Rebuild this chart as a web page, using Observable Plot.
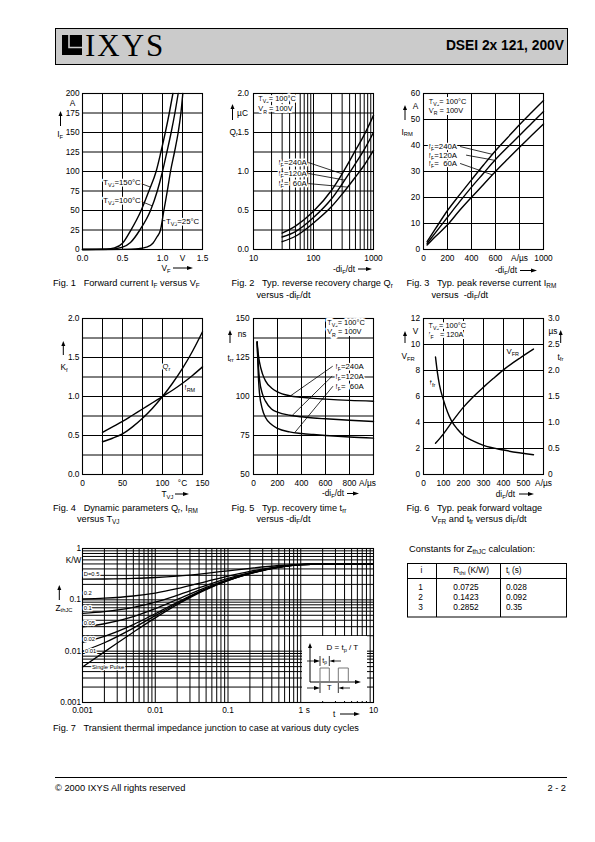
<!DOCTYPE html>
<html><head><meta charset="utf-8">
<script src="https://cdn.jsdelivr.net/npm/d3@7"></script>
<script src="https://cdn.jsdelivr.net/npm/@observablehq/plot@0.6"></script>
<style>
html,body{margin:0;padding:0;background:#fff;}
#page{position:relative;width:595px;height:842px;overflow:hidden;background:#fff;font-family:"Liberation Sans",Arial,Helvetica,sans-serif;color:#000;}
.t{position:absolute;white-space:nowrap;line-height:1;z-index:3;}
.s{font-size:70%;position:relative;top:0.32em;}
#overlay{position:absolute;left:0;top:0;z-index:2;}
</style></head><body><div id="page"></div>
<script>
/* ================= DATA ================= */
// Fig. 1  I_F versus V_F
const fig1V150 = [0, 0.3, 0.4, 0.5, 0.6, 0.733, 0.83, 0.92, 0.98, 1.035, 1.085, 1.13];
const fig1I150 = [0, 0.5, 2, 8, 24, 50, 75, 100, 125, 150, 175, 200];
const fig1V100 = [0, 0.35, 0.5, 0.6, 0.717, 0.85, 0.935, 1.0, 1.055, 1.108, 1.155, 1.196];
const fig1I100 = [0, 0.3, 3, 9, 25, 50, 75, 100, 125, 150, 175, 200];
const fig1V25 = [0, 0.5, 0.6, 0.7, 0.8, 0.88, 0.93, 0.975, 1.017, 1.06, 1.1, 1.15, 1.196, 1.23, 1.254];
const fig1I25 = [0, 0.1, 0.3, 1, 3, 8, 16, 25, 50, 75, 100, 125, 150, 175, 200];
const fig1XTicks = [0, 0.5, 1.0, 1.25, 1.5];
const fig1XLabels = ["0.0", "0.5", "1.0", "V", "1.5"];
const fig1YTicks = [0, 25, 50, 75, 100, 125, 150, 175, 200];
const fig1YLabels = ["0", "25", "50", "75", "100", "125", "150", "175", "200"];
const fig1GridX = [0.25, 0.5, 0.75, 1.0, 1.25];
const fig1GridY = [25, 50, 75, 100, 125, 150, 175];
const fig1Labels = ["T_{VJ}=150°C", "T_{VJ}=100°C", "T_{VJ}=25°C"];
const fig1LabelX = [0.26, 0.26, 1.045];
const fig1LabelY = [86, 63, 36];
const fig1LeadX1 = [0.72, 0.725, 0.995], fig1LeadY1 = [85, 62, 37];
const fig1LeadX2 = [0.85, 0.87, 1.04], fig1LeadY2 = [80, 56, 37];

// Fig. 2  Q_r versus -di_F/dt
const fig2X = [30, 50, 100, 200, 300, 500, 700, 1000];
const fig2Q240 = [0.21, 0.30, 0.49, 0.76, 0.97, 1.27, 1.47, 1.72];
const fig2Q120 = [0.16, 0.23, 0.41, 0.65, 0.84, 1.10, 1.28, 1.50];
const fig2Q60 = [0.10, 0.17, 0.34, 0.55, 0.71, 0.93, 1.08, 1.27];
const fig2XTicks = [10, 100, 430, 1000];
const fig2XLabels = ["10", "100", "A/µs", "1000"];
const fig2YTicks = [0, 0.5, 1.0, 1.5, 2.0];
const fig2YLabels = ["0.0", "0.5", "1.0", "1.5", "2.0"];
const fig2GridX = [20, 30, 40, 50, 60, 70, 80, 90, 100, 200, 300, 400, 500, 600, 700, 800, 900];
const fig2GridY = [0.25, 0.5, 0.75, 1.0, 1.25, 1.5, 1.75];
const fig2Cond = ["T_{VJ}= 100°C", "V_{R} = 100V"];
const fig2CondX = [12, 12], fig2CondY = [1.94, 1.80];
const fig2Labels = ["I_{F}=240A", "I_{F}=120A", "I_{F}=\u00A0\u00A060A"];
const fig2LabelX = [26, 26, 26], fig2LabelY = [1.115, 0.975, 0.845];
const fig2LeadX1 = [82, 82, 82], fig2LeadY1 = [1.115, 0.975, 0.845];
const fig2LeadX2 = [300, 330, 370], fig2LeadY2 = [0.97, 0.89, 0.80];

// Fig. 3  I_RM versus -di_F/dt
const fig3X = [30, 100, 200, 300, 400, 500, 600, 700, 800, 900, 1000];
const fig3I240 = [3, 8, 15, 21, 26.8, 32.5, 38, 43, 48, 52.7, 57.3];
const fig3I120 = [2.3, 6.5, 12.4, 18.3, 24, 29.3, 34.6, 39.3, 43.8, 48.5, 53.1];
const fig3I60 = [1.7, 5, 9.5, 15, 20.1, 25, 30, 34.7, 39.3, 43.8, 48.3];
const fig3XTicks = [0, 200, 400, 600, 800, 1000];
const fig3XLabels = ["0", "200", "400", "600", "A/µs", "1000"];
const fig3YTicks = [0, 10, 20, 30, 40, 50, 60];
const fig3YLabels = ["0", "10", "20", "30", "40", "50", "60"];
const fig3GridX = [200, 400, 600, 800];
const fig3GridY = [10, 20, 30, 40, 50];
const fig3Cond = ["T_{VJ}= 100°C", "V_{R} = 100V"];
const fig3CondX = [44, 44], fig3CondY = [56.8, 53.4];
const fig3Labels = ["I_{F}=240A", "I_{F}=120A", "I_{F}=\u00A0\u00A060A"];
const fig3LabelX = [44, 44, 44], fig3LabelY = [39.6, 36.3, 33.1];
const fig3LeadX1 = [305, 355, 305], fig3LeadY1 = [39.6, 36.3, 33.1];
const fig3LeadX2 = [574, 594, 574], fig3LeadY2 = [36.6, 34.3, 28.7];

// Fig. 4  K_f versus T_VJ
const fig4T = [25, 37.5, 50, 62.5, 75, 87.5, 100, 112.5, 125, 137.5, 150];
const fig4Qr = [0.42, 0.465, 0.52, 0.61, 0.72, 0.85, 1.0, 1.17, 1.36, 1.58, 1.83];
const fig4Irm = [0.54, 0.61, 0.68, 0.76, 0.84, 0.92, 1.0, 1.08, 1.17, 1.27, 1.38];
const fig4XTicks = [0, 50, 100, 125, 150];
const fig4XLabels = ["0", "50", "100", "°C", "150"];
const fig4YTicks = [0, 0.5, 1.0, 1.5, 2.0];
const fig4YLabels = ["0.0", "0.5", "1.0", "1.5", "2.0"];
const fig4GridX = [25, 50, 75, 100, 125];
const fig4GridY = [0.25, 0.5, 0.75, 1.0, 1.25, 1.5, 1.75];
const fig4Labels = ["Q_{r}", "I_{RM}"];
const fig4LabelX = [100, 127.5], fig4LabelY = [1.385, 1.115];

// Fig. 5  t_rr versus -di_F/dt
const fig5X = [30, 40, 50, 75, 100, 150, 200, 300, 400, 500, 600, 800, 1000];
const fig5T240 = [135, 127, 122, 114.5, 110, 105.5, 103, 100.5, 99.5, 98.8, 98.3, 97.5, 97];
const fig5T120 = [135, 120, 111, 101.5, 97, 92, 90, 88, 87, 86.2, 85.7, 84.8, 84];
const fig5T60 = [135, 114, 102, 91.5, 86.5, 82, 79.5, 77.3, 76.3, 75.6, 75, 74, 73.3];
const fig5XTicks = [0, 200, 400, 600, 800, 950];
const fig5XLabels = ["0", "200", "400", "600", "800", "A/µs"];
const fig5YTicks = [50, 75, 100, 125, 150];
const fig5YLabels = ["50", "75", "100", "125", "150"];
const fig5GridX = [200, 400, 600, 800];
const fig5GridY = [62.5, 75, 87.5, 100, 112.5, 125, 137.5];
const fig5Cond = ["T_{VJ}= 100°C", "V_{R} = 100V"];
const fig5CondX = [614, 614], fig5CondY = [147.6, 141.3];
const fig5Labels = ["I_{F}=240A", "I_{F}=120A", "I_{F}=\u00A0\u00A060A"];
const fig5LabelX = [683, 683, 683], fig5LabelY = [119.4, 113, 106.6];
const fig5LeadX1 = [660, 655, 662], fig5LeadY1 = [119.4, 113, 106.6];
const fig5LeadX2 = [308, 322, 344], fig5LeadY2 = [100.4, 87.8, 76.9];

// Fig. 6  V_FR and t_fr versus di_F/dt
const fig6VfrX = [60, 100, 150, 200, 250, 300, 350, 400, 450, 500, 550];
const fig6Vfr = [2.4, 3.13, 4.2, 5.18, 6.0, 6.72, 7.4, 8.05, 8.62, 9.15, 9.65];
const fig6TfrX = [60, 70, 80, 100, 120, 140, 170, 200, 250, 300, 400, 550];
const fig6Tfr = [2.26, 1.95, 1.72, 1.43, 1.2, 1.03, 0.87, 0.75, 0.64, 0.56, 0.47, 0.38];
const fig6XTicks = [0, 100, 200, 300, 400, 500, 600];
const fig6XLabels = ["0", "100", "200", "300", "400", "500", "A/µs"];
const fig6YTicks = [0, 2, 4, 6, 8, 10, 12];
const fig6YLabels = ["0", "2", "4", "6", "8", "10", "12"];
const fig6RTicks = [0, 0.5, 1.0, 1.5, 2.0, 2.5, 3.0];
const fig6RLabels = ["0", "0.5", "1.0", "1.5", "2.0", "2.5", "3.0"];
const fig6GridX = [100, 200, 300, 400, 500];
const fig6GridY = [2, 4, 6, 8, 10];
const fig6Cond = ["T_{VJ}= 100°C", "I_{F}\u00A0\u00A0 = 120A"];
const fig6CondX = [25, 25], fig6CondY = [11.46, 10.74];
const fig6Labels = ["V_{FR}", "t_{fr}"];
const fig6LabelX = [415, 31.5], fig6LabelY = [9.48, 7.1];

// Fig. 7  Z_thJC versus t
const fig7T = [0.001, 0.002, 0.005, 0.01, 0.02, 0.05, 0.1, 0.2, 0.5, 1, 2, 5, 10];
const fig7Single = [0.0049, 0.0097, 0.0234, 0.0445, 0.0806, 0.158, 0.236, 0.323, 0.431, 0.484, 0.499, 0.5, 0.5];
const fig7D01 = [0.0099, 0.0146, 0.0282, 0.0491, 0.0848, 0.1614, 0.2383, 0.3245, 0.4318, 0.4838, 0.4991, 0.5, 0.5];
const fig7D02 = [0.0148, 0.0195, 0.0329, 0.0536, 0.089, 0.1648, 0.241, 0.3262, 0.4325, 0.4839, 0.4991, 0.5, 0.5];
const fig7D05 = [0.0297, 0.0342, 0.0472, 0.0673, 0.1016, 0.1751, 0.2489, 0.3316, 0.4345, 0.4844, 0.4991, 0.5, 0.5];
const fig7D10 = [0.0544, 0.0587, 0.0711, 0.0901, 0.1225, 0.1922, 0.2621, 0.3404, 0.438, 0.4852, 0.4992, 0.5, 0.5];
const fig7D20 = [0.1039, 0.1077, 0.1187, 0.1356, 0.1645, 0.2264, 0.2886, 0.3582, 0.4449, 0.4869, 0.4993, 0.5, 0.5];
const fig7D50 = [0.2525, 0.2548, 0.2617, 0.2723, 0.2903, 0.329, 0.368, 0.411, 0.466, 0.492, 0.4996, 0.5, 0.5];
const fig7XTicks = [0.001, 0.01, 0.1, 1, 10];
const fig7XLabels = ["0.001", "0.01", "0.1", "1", "10"];
const fig7YTicks = [0.001, 0.01, 0.1, 1];
const fig7YLabels = ["0.001", "0.01", "0.1", "1"];
const fig7Labels = ["D=0.5", "0.2", "0.1", "0.05", "0.02", "0.01", "Single Pulse"];
const fig7LabelX = [0.00104, 0.00104, 0.00104, 0.00104, 0.00104, 0.00108, 0.00135];
const fig7LabelY = [0.321, 0.135, 0.0678, 0.0352, 0.0172, 0.0102, 0.00496];

// Table: constants for Z_thJC
const tabI = ["1", "2", "3"];
const tabR = ["0.0725", "0.1423", "0.2852"];
const tabTau = ["0.028", "0.092", "0.35"];

/* ================= HELPERS ================= */
const NS = "http://www.w3.org/2000/svg";
const FONT = '"Liberation Sans", Arial, Helvetica, sans-serif';
const page = document.getElementById("page");
const ML = 40, MR = 40, MT = 15, MB = 35;

function pts(xs, ys) { return xs.map((x, i) => ({x, y: ys[i]})); }
function curve(xs, ys, opt = {}) {
  return Plot.line(pts(xs, ys), {x: "x", y: "y", stroke: "#000", strokeWidth: 1.4, curve: "monotone-x", ...opt});
}
function gridFrame(gx, gy) {
  return [
    Plot.gridX(gx, {stroke: "#000", strokeOpacity: 1, strokeWidth: 1}),
    Plot.gridY(gy, {stroke: "#000", strokeOpacity: 1, strokeWidth: 1}),
    Plot.frame({stroke: "#000", strokeWidth: 1.1})
  ];
}
function xAxis(ticks, labels, pad) {
  const m = new Map(ticks.map((t, i) => [t, labels[i]]));
  return Plot.axisX(ticks, {anchor: "bottom", tickSize: 0, tickPadding: pad, tickFormat: d => m.get(d), label: null});
}
function yAxis(ticks, labels, pad, anchor = "left") {
  const m = new Map(ticks.map((t, i) => [t, labels[i]]));
  return Plot.axisY(ticks, {anchor, tickSize: 0, tickPadding: pad, tickFormat: d => m.get(d), label: null});
}
function texts(strs, xs, ys, opt = {}) {
  return Plot.text(strs.map((t, i) => ({t, x: xs[i], y: ys[i]})),
    {x: "x", y: "y", text: "t", textAnchor: "start", fontSize: 8, fill: "#000", ...opt});
}
function leaders(x1, y1, x2, y2) {
  return Plot.link(x1.map((v, i) => ({x1: v, y1: y1[i], x2: x2[i], y2: y2[i]})),
    {x1: "x1", y1: "y1", x2: "x2", y2: "y2", stroke: "#000", strokeWidth: 0.8});
}
function unitY(t, yv, dx, anchor = "left") {
  return Plot.text([{t, y: yv}], {y: "y", text: "t", frameAnchor: anchor, dx, textAnchor: "middle", fill: "#000"});
}
function richify(root) {
  root.querySelectorAll("text, tspan").forEach(el => {
    if (el.children.length || !el.textContent.includes("_{")) return;
    const fs = parseFloat(getComputedStyle(el).fontSize) || 8;
    const s = el.textContent; el.textContent = "";
    const re = /_\{([^}]*)\}/g; let last = 0, m, down = false;
    const add = (txt, sub) => {
      const t = document.createElementNS(NS, "tspan"); t.textContent = txt;
      if (sub) { t.setAttribute("font-size", (fs * 0.7).toFixed(2)); t.setAttribute("dy", (fs * 0.28).toFixed(2)); down = true; }
      else if (down) { t.setAttribute("dy", (-fs * 0.28).toFixed(2)); down = false; }
      el.appendChild(t);
    };
    while ((m = re.exec(s))) { if (m.index > last) add(s.slice(last, m.index), false); add(m[1], true); last = re.lastIndex; }
    if (last < s.length) add(s.slice(last), false);
  });
}
function chart({fx, fy, fw, fh, x, y, marks}) {
  const svg = Plot.plot({
    width: fw + ML + MR, height: fh + MT + MB,
    marginLeft: ML, marginRight: MR, marginTop: MT, marginBottom: MB,
    x: {...x, label: null}, y: {...y, label: null},
    style: {fontFamily: FONT, fontSize: "8.3px", color: "#000", background: "transparent", overflow: "visible"},
    marks
  });
  svg.style.position = "absolute";
  svg.style.left = (fx - ML) + "px";
  svg.style.top = (fy - MT) + "px";
  page.appendChild(svg);
  richify(svg);
  return svg;
}
function rich(s) { return s.replace(/_\{([^}]*)\}/g, '<span class="s">$1</span>'); }
function txt(s, x, y, o = {}) {
  const size = o.size || 8.3;
  const d = document.createElement("div");
  d.className = "t"; d.innerHTML = rich(s);
  d.style.fontSize = size + "px";
  d.style.left = x + "px"; d.style.top = (y - size * 0.5) + "px";
  const tx = o.anchor === "end" ? "-100%" : o.anchor === "middle" ? "-50%" : "0";
  d.style.transform = `translate(${tx},0)`;
  if (o.bold) d.style.fontWeight = "bold";
  if (o.family) d.style.fontFamily = o.family;
  if (o.ls) d.style.letterSpacing = o.ls + "px";
  page.appendChild(d);
  return d;
}
const COND = {fontSize: 7.4, stroke: "white", strokeWidth: 4};
const LAB = {fontSize: 7.8, stroke: "white", strokeWidth: 3};

/* ================= CHARTS ================= */
// Fig 1
chart({fx: 82, fy: 93, fw: 120, fh: 156,
  x: {domain: [0, 1.5]}, y: {domain: [0, 200]},
  marks: [
    ...gridFrame(fig1GridX, fig1GridY),
    curve(fig1V150, fig1I150), curve(fig1V100, fig1I100), curve(fig1V25, fig1I25),
    leaders(fig1LeadX1, fig1LeadY1, fig1LeadX2, fig1LeadY2),
    texts(fig1Labels, fig1LabelX, fig1LabelY, LAB),
    xAxis(fig1XTicks, fig1XLabels, 6), yAxis(fig1YTicks, fig1YLabels, 3),
    unitY("A", 187.5, -10)
  ]});

// Fig 2
chart({fx: 253, fy: 93, fw: 120, fh: 156,
  x: {type: "log", domain: [10, 1000]}, y: {domain: [0, 2]},
  marks: [
    ...gridFrame(fig2GridX, fig2GridY),
    curve(fig2X, fig2Q240), curve(fig2X, fig2Q120), curve(fig2X, fig2Q60),
    leaders(fig2LeadX1, fig2LeadY1, fig2LeadX2, fig2LeadY2),
    texts(fig2Cond, fig2CondX, fig2CondY, COND),
    texts(fig2Labels, fig2LabelX, fig2LabelY, LAB),
    xAxis(fig2XTicks, fig2XLabels, 6), yAxis(fig2YTicks, fig2YLabels, 4.5),
    unitY("µC", 1.75, -11)
  ]});

// Fig 3
chart({fx: 423, fy: 93, fw: 120, fh: 156,
  x: {domain: [0, 1000]}, y: {domain: [0, 60]},
  marks: [
    ...gridFrame(fig3GridX, fig3GridY),
    curve(fig3X, fig3I240), curve(fig3X, fig3I120), curve(fig3X, fig3I60),
    leaders(fig3LeadX1, fig3LeadY1, fig3LeadX2, fig3LeadY2),
    texts(fig3Cond, fig3CondX, fig3CondY, COND),
    texts(fig3Labels, fig3LabelX, fig3LabelY, LAB),
    xAxis(fig3XTicks, fig3XLabels, 6), yAxis(fig3YTicks, fig3YLabels, 3.5),
    unitY("A", 55, -8)
  ]});

// Fig 4
chart({fx: 82, fy: 318, fw: 120, fh: 156,
  x: {domain: [0, 150]}, y: {domain: [0, 2]},
  marks: [
    ...gridFrame(fig4GridX, fig4GridY),
    curve(fig4T, fig4Qr), curve(fig4T, fig4Irm),
    texts(fig4Labels, fig4LabelX, fig4LabelY, LAB),
    xAxis(fig4XTicks, fig4XLabels, 6), yAxis(fig4YTicks, fig4YLabels, 3)
  ]});

// Fig 5
chart({fx: 253, fy: 318, fw: 120, fh: 156,
  x: {domain: [0, 1000]}, y: {domain: [50, 150]},
  marks: [
    ...gridFrame(fig5GridX, fig5GridY),
    curve(fig5X, fig5T240), curve(fig5X, fig5T120), curve(fig5X, fig5T60),
    leaders(fig5LeadX1, fig5LeadY1, fig5LeadX2, fig5LeadY2),
    texts(fig5Cond, fig5CondX, fig5CondY, COND),
    texts(fig5Labels, fig5LabelX, fig5LabelY, LAB),
    xAxis(fig5XTicks, fig5XLabels, 6), yAxis(fig5YTicks, fig5YLabels, 4),
    unitY("ns", 140, -11.5)
  ]});

// Fig 6 (right axis in µs shares the plot; 12 V  <->  3 µs)
const fig6Ratio = fig6YTicks[fig6YTicks.length - 1] / fig6RTicks[fig6RTicks.length - 1];
chart({fx: 423, fy: 318, fw: 120, fh: 156,
  x: {domain: [0, 600]}, y: {domain: [0, 12]},
  marks: [
    ...gridFrame(fig6GridX, fig6GridY),
    curve(fig6VfrX, fig6Vfr),
    curve(fig6TfrX, fig6Tfr.map(v => v * fig6Ratio)),
    texts(fig6Cond, fig6CondX, fig6CondY, COND),
    texts(fig6Labels, fig6LabelX, fig6LabelY, LAB),
    xAxis(fig6XTicks, fig6XLabels, 6), yAxis(fig6YTicks, fig6YLabels, 3.5),
    yAxis(fig6RTicks.map(v => v * fig6Ratio), fig6RLabels, 4.5, "right"),
    unitY("V", 11, -8), unitY("µs", 2.75 * fig6Ratio, 9.5, "right")
  ]});

// Fig 7
const fig7GridX = d3.range(-3, 1).flatMap(e => d3.range(1, 10).map(m => +(m * 10 ** e).toPrecision(3)));
const fig7GridY = d3.range(-3, 0).flatMap(e => d3.range(1, 10).map(m => +(m * 10 ** e).toPrecision(3)));
chart({fx: 82, fy: 548, fw: 291, fh: 154,
  x: {type: "log", domain: [0.001, 10]}, y: {type: "log", domain: [0.001, 1]},
  marks: [
    ...gridFrame(fig7GridX, fig7GridY),
    curve(fig7T, fig7Single, {strokeWidth: 1.3}), curve(fig7T, fig7D01, {strokeWidth: 1.3}),
    curve(fig7T, fig7D02, {strokeWidth: 1.3}), curve(fig7T, fig7D05, {strokeWidth: 1.3}),
    curve(fig7T, fig7D10, {strokeWidth: 1.3}), curve(fig7T, fig7D20, {strokeWidth: 1.3}),
    curve(fig7T, fig7D50, {strokeWidth: 1.3}),
    texts(fig7Labels, fig7LabelX, fig7LabelY, {fontSize: 5.8, stroke: "white", strokeWidth: 2.5}),
    xAxis(fig7XTicks, fig7XLabels, 4.5), yAxis(fig7YTicks, fig7YLabels, 1.5),
    unitY("K/W", 0.575, -9),
    Plot.text([{t: "s", x: 1}], {x: "x", text: "t", frameAnchor: "bottom", lineAnchor: "top", dy: 4.5, dx: 7, fill: "#000"})
  ]});

/* ================= OVERLAY (header, arrows, inset, table) ================= */
function upArrow(x, y1, y2) {
  return `<line x1="${x}" y1="${y1}" x2="${x}" y2="${y2 + 4}" stroke="#000" stroke-width="1"/>` +
         `<path d="M${x - 2},${y2 + 5}L${x},${y2}L${x + 2},${y2 + 5}Z" fill="#000"/>`;
}
function rightArrow(x1, x2, y, w = 1) {
  return `<line x1="${x1}" y1="${y}" x2="${x2 - 4}" y2="${y}" stroke="#000" stroke-width="${w}"/>` +
         `<path d="M${x2 - 6},${y - 2}L${x2},${y}L${x2 - 6},${y + 2}Z" fill="#000"/>`;
}
function leftArrow(x1, x2, y) { // tip at x2 (x2 < x1)
  return `<line x1="${x1}" y1="${y}" x2="${x2 + 4}" y2="${y}" stroke="#000" stroke-width="0.8"/>` +
         `<path d="M${x2 + 5},${y - 1.6}L${x2},${y}L${x2 + 5},${y + 1.6}Z" fill="#000"/>`;
}
let ov = "";
// header
ov += `<rect x="55.5" y="28.5" width="512" height="36" fill="#cbcbcb" stroke="#000" stroke-width="1"/>`;
ov += `<rect x="62" y="35" width="20" height="20" fill="#000"/>`;
ov += `<path d="M69,35V47.5H82" fill="none" stroke="#cbcbcb" stroke-width="1.6"/>`;
// axis arrows
ov += upArrow(60.5, 126, 111) + rightArrow(173, 193, 268);
ov += upArrow(232.5, 120, 104) + rightArrow(358, 372, 269);
ov += upArrow(405, 120, 105) + rightArrow(520, 537, 270.5);
ov += upArrow(63.3, 355, 341) + rightArrow(175, 189, 494);
ov += upArrow(230, 343, 330) + rightArrow(347, 359, 493.5);
ov += upArrow(405, 343, 331) + upArrow(560.7, 343, 330) + rightArrow(519, 534, 494);
ov += upArrow(59.3, 600, 585) + rightArrow(340, 360, 714);
// Fig 7 inset
ov += `<rect x="302" y="636" width="65" height="65" fill="#fff"/>`;
ov += upArrow(310, 682, 643) + rightArrow(310, 361, 682);
ov += `<path d="M320,682V668H329.3V682M338.3,682V668H348.3V682" fill="none" stroke="#777" stroke-width="1"/>`;
ov += `<path d="M320,656V666M329.3,656V666M320,683V693M338.3,683V693" stroke="#000" stroke-width="0.8"/>`;
ov += rightArrow(307, 320, 661, 0.8) + leftArrow(341, 329.3, 661);
ov += rightArrow(307, 320, 688, 0.8) + leftArrow(350, 338.3, 688);
// table
ov += `<rect x="407.5" y="563.5" width="159" height="53.5" fill="none" stroke="#000" stroke-width="1"/>`;
ov += `<path d="M407.5,578.5H566.5M436.5,563.5V617M500.5,563.5V617" stroke="#000" stroke-width="1"/>`;
// footer line
ov += `<line x1="55" y1="777.5" x2="567" y2="777.5" stroke="#000" stroke-width="1"/>`;
const overlay = document.createElementNS(NS, "svg");
overlay.setAttribute("id", "overlay");
overlay.setAttribute("width", 595); overlay.setAttribute("height", 842);
overlay.innerHTML = ov;
page.appendChild(overlay);

/* ================= TEXT ================= */
txt("IXYS", 85, 45.5, {size: 31, family: '"Liberation Serif", "Times New Roman", serif', ls: 2});
txt("DSEI 2x 121, 200V", 564, 46, {size: 13.8, bold: true, anchor: "end"});

// axis titles
txt("I_{F}", 57.3, 134); txt("V_{F}", 161.5, 268);
txt("Q_{r}", 229.5, 131.7); txt("-di_{F}/dt", 355, 269, {anchor: "end"});
txt("I_{RM}", 401.5, 131.7); txt("-di_{F}/dt", 517, 270.5, {anchor: "end"});
txt("K_{f}", 60.5, 367.3); txt("T_{VJ}", 161.5, 494);
txt("t_{rr}", 227.5, 357.7); txt("-di_{F}/dt", 344, 493.5, {anchor: "end"});
txt("V_{FR}", 401.5, 356); txt("t_{fr}", 557.5, 356.7); txt("di_{F}/dt", 515, 494, {anchor: "end"});
txt("Z_{thJC}", 55.5, 607.7); txt("t", 333, 714);

// captions
const CS = 9.2;
txt("Fig. 1\u00A0\u00A0 Forward current I_{F} versus V_{F}", 53, 284, {size: CS});
txt("Fig. 2\u00A0\u00A0 Typ. reverse recovery charge Q_{r}", 231.5, 284, {size: CS});
txt("versus -di_{F}/dt", 256.5, 295.5, {size: CS});
txt("Fig. 3\u00A0\u00A0 Typ. peak reverse current I_{RM}", 406.5, 284, {size: CS});
txt("versus\u00A0 -di_{F}/dt", 431.5, 295.5, {size: CS});
txt("Fig. 4\u00A0\u00A0 Dynamic parameters Q_{r}, I_{RM}", 53, 508.5, {size: CS});
txt("versus T_{VJ}", 77, 519.5, {size: CS});
txt("Fig. 5\u00A0\u00A0 Typ. recovery time t_{rr}", 231.5, 508.5, {size: CS});
txt("versus -di_{F}/dt", 256.5, 519.5, {size: CS});
txt("Fig. 6\u00A0\u00A0 Typ. peak forward voltage", 406.5, 508.5, {size: CS});
txt("V_{FR} and t_{fr} versus di_{F}/dt", 431.5, 519.5, {size: CS});
txt("Fig. 7\u00A0\u00A0 Transient thermal impedance junction to case at various duty cycles", 53, 729, {size: CS});

// inset texts
txt("D = t_{p} / T", 326.5, 648, {size: 8});
txt("t_{p}", 324.6, 660, {size: 7, anchor: "middle"});
txt("T", 329.3, 688, {size: 7.5, anchor: "middle"});

// table
txt("Constants for Z_{thJC} calculation:", 409, 549.5, {size: 9.3});
txt("i", 421.5, 570.5, {size: 8.3, anchor: "middle"});
txt("R_{thi} (K/W)", 453.3, 570.5, {size: 8.3});
txt("t_{i} (s)", 506, 570.5, {size: 8.3});
tabI.forEach((v, i) => {
  const yy = 587 + i * 10;
  txt(v, 420.5, yy, {size: 8.3, anchor: "middle"});
  txt(tabR[i], 453.3, yy, {size: 8.3});
  txt(tabTau[i], 506, yy, {size: 8.3});
});

// footer
txt("© 2000 IXYS All rights reserved", 55, 789, {size: 9.3});
txt("2 - 2", 566, 789, {size: 9.3, anchor: "end"});
</script></body></html>
